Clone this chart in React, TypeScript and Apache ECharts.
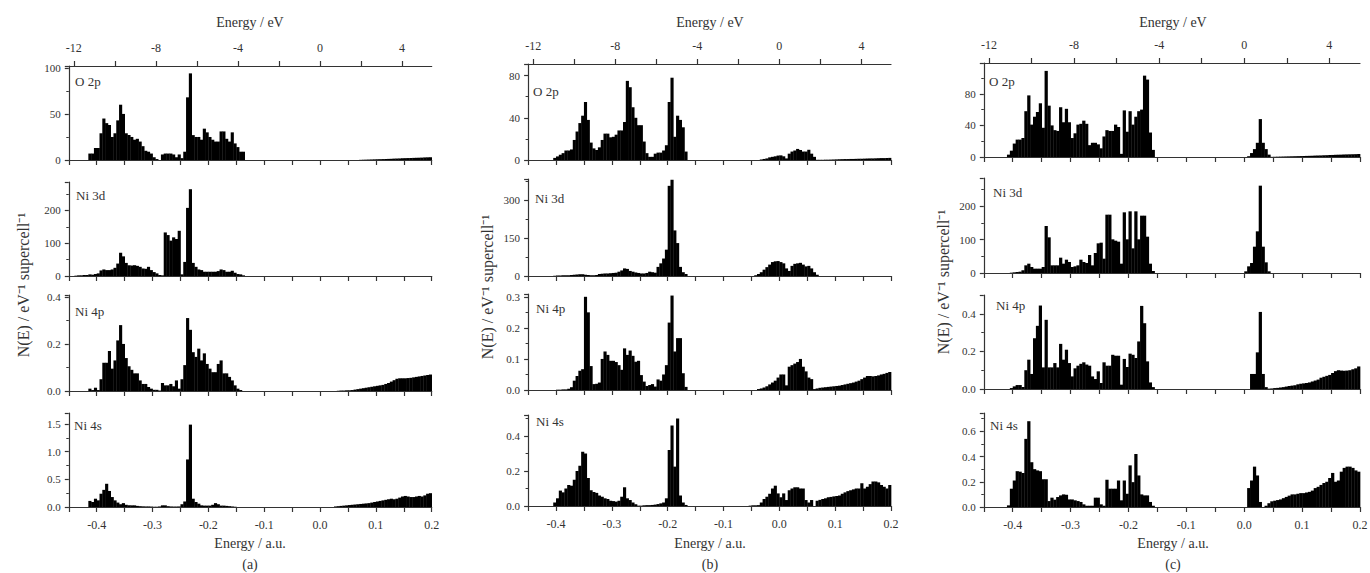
import React, { useEffect, useRef } from 'react';
import * as echarts from 'echarts';

// ---------- axis constants ----------
const BIN = 0.005; // a.u., histogram bin width
const AU_MIN = -0.45;
const AU_MAX = 0.2;
const HARTREE_EV = 27.2114;
const auTickStep = 0.05;
const auLabelStep = 0.1;
const eVTicks = [-12, -10, -8, -6, -4, -2, 0, 2, 4];
const eVLabels = [-12, -8, -4, 0, 4];
const orbitals = ['O 2p', 'Ni 3d', 'Ni 4p', 'Ni 4s'];
const panelTags = ['(a)', '(b)', '(c)'];

// ---------- data: [left edge energy (a.u.), bin values] ----------
type Seg = [number, number[]];

// panel (a)
const aO2p: Seg[] = [
  [-0.415, [7, 7, 13, 13, 29, 45, 40, 38, 25, 29, 43, 60, 50, 29, 27, 25, 22, 23, 20, 15, 10, 9, 7, 3, 1, 0, 6, 7, 7, 7, 6, 3, 6, 2, 9, 68, 94, 27, 25, 25, 22, 34, 30, 25, 22, 20, 20, 31, 31, 23, 20, 30, 18, 14, 9, 9]],
  [0.07, [0.2, 0.3, 0.4, 0.5, 0.6, 0.7, 0.8, 0.9, 1.0, 1.1, 1.2, 1.3, 1.5, 1.6, 1.7, 1.9, 2.0, 2.1, 2.2, 2.3, 2.4, 2.5, 2.6, 2.8, 2.9, 3.0]],
];
const aNi3d: Seg[] = [
  [-0.44, [1, 2, 2, 3, 3, 5, 4, 6, 8, 17, 20, 18, 18, 20, 25, 38, 71, 60, 40, 33, 32, 33, 31, 28, 23, 22, 28, 18, 12, 8, 3, 2, 133, 125, 108, 118, 113, 138, 5, 43, 208, 265, 40, 28, 20, 18, 13, 13, 13, 13, 13, 15, 20, 18, 13, 13, 16, 10, 6, 5, 2]],
];
const aNi4p: Seg[] = [
  [-0.415, [0.01, 0.004, 0.014, 0.004, 0.05, 0.12, 0.12, 0.17, 0.095, 0.13, 0.215, 0.28, 0.2, 0.14, 0.105, 0.09, 0.075, 0.075, 0.045, 0.03, 0.03, 0.017, 0.01, 0.005, 0.005, 0.002, 0.034, 0.024, 0.024, 0.03, 0.02, 0.045, 0.01, 0.05, 0.11, 0.31, 0.26, 0.165, 0.145, 0.18, 0.13, 0.16, 0.115, 0.095, 0.08, 0.08, 0.115, 0.13, 0.075, 0.075, 0.06, 0.045, 0.024, 0.01, 0.004]],
  [0.03, [0.001, 0.002, 0.002, 0.003, 0.003, 0.004, 0.006, 0.008, 0.01, 0.012, 0.014, 0.016, 0.018, 0.02, 0.022, 0.024, 0.026, 0.03, 0.034, 0.04, 0.046, 0.052, 0.054, 0.054, 0.054, 0.055, 0.056, 0.058, 0.06, 0.062, 0.064, 0.066, 0.068, 0.07]],
];
const aNi4s: Seg[] = [
  [-0.415, [0.11, 0.09, 0.15, 0.12, 0.24, 0.31, 0.42, 0.29, 0.18, 0.12, 0.08, 0.05, 0.07, 0.04, 0.03, 0.03, 0.03, 0.02, 0.015, 0.012, 0.01, 0.01, 0.008, 0.005, 0.005, 0.01, 0.03, 0.03, 0.015, 0.01, 0.008, 0.008, 0.01, 0.05, 0.1, 0.86, 1.49, 0.15, 0.09, 0.06, 0.03, 0.025, 0.025, 0.025, 0.04, 0.07, 0.05, 0.025, 0.025, 0.02, 0.015, 0.01, 0.005]],
  [0.025, [0.01, 0.015, 0.02, 0.025, 0.03, 0.035, 0.04, 0.045, 0.05, 0.055, 0.06, 0.065, 0.07, 0.08, 0.09, 0.1, 0.11, 0.12, 0.13, 0.14, 0.15, 0.14, 0.15, 0.17, 0.19, 0.2, 0.19, 0.18, 0.18, 0.19, 0.2, 0.19, 0.21, 0.24, 0.25]],
];

// panel (b)
const bO2p: Seg[] = [
  [-0.405, [2, 3.4, 5, 6.5, 9, 9, 10, 19, 27, 35, 42, 55, 38, 16.5, 11, 9.5, 12, 19, 25, 25, 21.5, 22, 24, 28, 28, 36, 75, 69, 50, 40, 33, 33, 17.5, 6.5, 3, 3, 6, 7, 7, 9, 14, 55, 78, 22, 42, 38, 31, 8]],
  [-0.035, [0.5, 1, 1.5, 2.5, 3, 3.5, 4.2, 4.4, 3.5, 1.5, 6, 8, 9, 10.5, 9.5, 8, 8, 9.7, 6, 3, 0.2, 0.2, 0.2, 0.3, 0.3, 0.4, 0.5, 0.6, 0.7, 0.8, 0.9, 0.9, 1.0, 1.0, 1.1, 1.2, 1.2, 1.3, 1.4, 1.5, 1.5, 1.6, 1.7, 1.8, 1.8, 1.9, 2.0]],
];
const bNi3d: Seg[] = [
  [-0.405, [1, 2, 2, 3, 3, 3, 4, 5, 6, 7, 7, 5, 4, 3, 3, 4, 8, 9, 10, 10, 11, 12, 13, 17, 22, 30, 28, 20, 17, 14, 12, 10, 10, 12, 17, 15, 13, 36, 50, 69, 104, 356, 380, 180, 130, 36, 15, 8]],
  [-0.045, [3, 8, 15, 25, 35, 45, 55, 58, 59, 55, 50, 30, 20, 40, 48, 50, 52, 45, 38, 40, 30, 15, 5]],
];
const bNi4p: Seg[] = [
  [-0.4, [0.001, 0.001, 0.002, 0.002, 0.004, 0.009, 0.03, 0.045, 0.062, 0.067, 0.3, 0.25, 0.077, 0.019, 0.02, 0.024, 0.1, 0.124, 0.113, 0.094, 0.094, 0.09, 0.08, 0.065, 0.134, 0.113, 0.127, 0.11, 0.091, 0.094, 0.048, 0.027, 0.013, 0.016, 0.019, 0.011, 0.034, 0.03, 0.05, 0.08, 0.217, 0.304, 0.124, 0.167, 0.167, 0.054, 0.01]],
  [-0.04, [0.003, 0.005, 0.008, 0.012, 0.018, 0.024, 0.03, 0.04, 0.05, 0.05, 0.015, 0.075, 0.08, 0.085, 0.09, 0.1, 0.075, 0.06, 0.04, 0.035, 0.003, 0.005, 0.007, 0.008, 0.009, 0.01, 0.011, 0.012, 0.013, 0.014, 0.016, 0.018, 0.02, 0.022, 0.024, 0.027, 0.03, 0.035, 0.04, 0.045, 0.045, 0.044, 0.045, 0.047, 0.05, 0.052, 0.055, 0.058]],
];
const bNi4s: Seg[] = [
  [-0.405, [0.02, 0.044, 0.088, 0.078, 0.1, 0.12, 0.116, 0.15, 0.2, 0.23, 0.31, 0.3, 0.16, 0.09, 0.08, 0.075, 0.06, 0.053, 0.044, 0.04, 0.03, 0.028, 0.025, 0.03, 0.053, 0.107, 0.044, 0.034, 0.02, 0.01, 0.002, 0.002, 0.004, 0.005, 0.005, 0.006, 0.008, 0.011, 0.015, 0.02, 0.044, 0.32, 0.46, 0.225, 0.5, 0.06, 0.02, 0.006]],
  [-0.055, [0.002, 0.004, 0.004, 0.005, 0.02, 0.04, 0.053, 0.07, 0.1, 0.116, 0.072, 0.05, 0.072, 0.034, 0.09, 0.1, 0.107, 0.107, 0.1, 0.1, 0.034, 0.02, 0.034, 0.0, 0.03, 0.035, 0.04, 0.044, 0.05, 0.052, 0.055, 0.057, 0.06, 0.07, 0.078, 0.085, 0.09, 0.095, 0.1, 0.1, 0.13, 0.1, 0.11, 0.125, 0.14, 0.14, 0.135, 0.12, 0.11, 0.1, 0.12]],
];

// panel (c)
const cO2p: Seg[] = [
  [-0.41, [3, 8, 17, 22, 22, 24, 58, 78, 41, 51, 57, 68, 37, 109, 65, 40, 34, 33, 63, 44, 61, 44, 24, 30, 41, 42, 46, 42, 15, 18, 18, 16, 11, 26, 34, 33, 33, 41, 38, 4, 59, 32, 58, 41, 51, 58, 60, 103, 98, 31, 9]],
  [0.005, [1, 5, 10, 18, 48, 18, 10, 3, 0.2, 0.3, 0.4, 0.5, 0.6, 0.7, 0.8, 0.9, 1.0, 1.1, 1.2, 1.3, 1.4, 1.5, 1.6, 1.8, 1.9, 2.0, 2.2, 2.3, 2.5, 2.6, 2.8, 2.9, 3.0, 3.2, 3.3, 3.4, 3.5, 3.6, 3.8]],
];
const cNi3d: Seg[] = [
  [-0.405, [1, 2, 3, 4, 8, 23, 28, 18, 13, 13, 13, 18, 141, 107, 23, 23, 23, 46, 28, 40, 33, 18, 20, 23, 40, 33, 30, 54, 23, 60, 89, 91, 43, 175, 175, 101, 97, 94, 28, 182, 101, 185, 74, 185, 101, 172, 172, 109, 28, 6]],
  [0.0, [5, 20, 30, 79, 125, 262, 79, 32, 5]],
];
const cNi4p: Seg[] = [
  [-0.405, [0.005, 0.014, 0.021, 0.021, 0.01, 0.1, 0.156, 0.08, 0.27, 0.336, 0.444, 0.115, 0.368, 0.115, 0.115, 0.138, 0.115, 0.24, 0.156, 0.209, 0.138, 0.067, 0.11, 0.124, 0.134, 0.142, 0.13, 0.124, 0.067, 0.053, 0.094, 0.032, 0.142, 0.124, 0.124, 0.182, 0.177, 0.177, 0.023, 0.16, 0.117, 0.188, 0.182, 0.165, 0.253, 0.442, 0.35, 0.147, 0.035, 0.01]],
  [0.01, [0.08, 0.08, 0.195, 0.41, 0.08, 0.01, 0.002, 0.003, 0.005, 0.006, 0.008, 0.01, 0.013, 0.016, 0.018, 0.02, 0.025, 0.028, 0.03, 0.032, 0.035, 0.04, 0.045, 0.05, 0.06, 0.065, 0.07, 0.075, 0.085, 0.095, 0.1, 0.098, 0.097, 0.098, 0.1, 0.105, 0.11, 0.12]],
];
const cNi4s: Seg[] = [
  [-0.41, [0.013, 0.145, 0.21, 0.284, 0.28, 0.27, 0.54, 0.68, 0.355, 0.3, 0.29, 0.284, 0.22, 0.22, 0.047, 0.074, 0.058, 0.079, 0.092, 0.1, 0.097, 0.06, 0.06, 0.053, 0.047, 0.04, 0.021, 0.01, 0.01, 0.01, 0.074, 0.074, 0.021, 0.01, 0.216, 0.145, 0.145, 0.145, 0.21, 0.053, 0.21, 0.105, 0.33, 0.197, 0.42, 0.25, 0.1, 0.092, 0.092, 0.04, 0.01]],
  [0.005, [0.15, 0.21, 0.32, 0.25, 0.04, 0.0, 0.01, 0.03, 0.045, 0.05, 0.055, 0.06, 0.07, 0.08, 0.09, 0.1, 0.1, 0.105, 0.11, 0.11, 0.115, 0.12, 0.13, 0.15, 0.16, 0.175, 0.19, 0.2, 0.23, 0.27, 0.2, 0.21, 0.28, 0.31, 0.32, 0.32, 0.31, 0.29, 0.28]],
];

// y-axis ranges and label steps per row
const yMaxA = [102, 287, 0.408, 1.7];
const yStepA = [50, 100, 0.2, 0.5];
const yMaxB = [91, 383, 0.309, 0.52];
const yStepB = [40, 150, 0.1, 0.2];
const yMaxC = [119, 285, 0.5, 0.745];
const yStepC = [40, 100, 0.2, 0.2];

// ---------- layout (pixels) ----------
const FONT = "'Liberation Serif', 'Times New Roman', serif";
const TEXT = '#333';
const AXIS = '#333';

const panels = [
  {
    left: 68.8, width: 362.9, tops: [66, 182, 295, 413], heights: [94, 94, 96, 94],
    series: [aO2p, aNi3d, aNi4p, aNi4s], yMax: yMaxA, yStep: yStepA,
    labelPos: [[75, 81], [76, 195], [75, 311], [74, 425]],
    center: 250, yTitle: [23, 285],
  },
  {
    left: 528.1, width: 362.9, tops: [64, 179, 294, 415], heights: [96, 97, 96, 91],
    series: [bO2p, bNi3d, bNi4p, bNi4s], yMax: yMaxB, yStep: yStepB,
    labelPos: [[533, 91], [535, 198], [536, 308], [536, 421]],
    center: 710, yTitle: [487, 287],
  },
  {
    left: 983.8, width: 376.2, tops: [63, 178, 295, 413], heights: [94, 95, 94, 94],
    series: [cO2p, cNi3d, cNi4p, cNi4s], yMax: yMaxC, yStep: yStepC,
    labelPos: [[989, 81], [993, 192], [996, 305], [990, 425]],
    center: 1173, yTitle: [943, 282],
  },
];

function toBins(segs: Seg[]): number[][] {
  const out: number[][] = [];
  segs.forEach(([start, vals]) => {
    vals.forEach((v, k) => {
      out.push([Math.round((start + BIN * (k + 0.5)) * 1e5) / 1e5, v]);
    });
  });
  return out;
}

function stepFormatter(step: number, dec: number) {
  return (v: number) => {
    const k = Math.round(v / step);
    if (Math.abs(v - k * step) > step * 1e-4) return '';
    const s = (k * step).toFixed(dec);
    return s === '-0.0' ? '0.0' : s;
  };
}

function buildOption() {
  const grid: any[] = [];
  const xAxis: any[] = [];
  const yAxis: any[] = [];
  const series: any[] = [];
  const graphic: any[] = [];
  const topAxes: any[] = [];

  panels.forEach((p, pi) => {
    for (let r = 0; r < 4; r++) {
      const gi = grid.length;
      grid.push({ left: p.left, width: p.width, top: p.tops[r], height: p.heights[r], containLabel: false, outerBoundsMode: 'none' });
      xAxis.push({
        gridIndex: gi, type: 'value', position: 'bottom', min: AU_MIN, max: AU_MAX, interval: auTickStep,
        axisLine: { show: true, onZero: false, lineStyle: { color: AXIS, width: 1.2 } },
        axisTick: { show: true, inside: false, length: 5, lineStyle: { color: AXIS, width: 1.2 } },
        axisLabel: {
          show: r === 3, margin: 12, fontFamily: FONT, fontSize: 12, color: TEXT,
          formatter: stepFormatter(auLabelStep, 1),
        },
        splitLine: { show: false },
      });
      const step = p.yStep[r];
      const dec = r < 2 ? 0 : 1;
      yAxis.push({
        gridIndex: gi, type: 'value', position: 'left', min: 0, max: p.yMax[r], interval: step,
        axisLine: { show: true, onZero: false, lineStyle: { color: AXIS, width: 1.2 } },
        axisTick: { show: true, inside: false, length: 4, lineStyle: { color: AXIS, width: 1.2 } },
        minorTick: { show: true, splitNumber: 2, length: 2.5, lineStyle: { color: AXIS, width: 1 } },
        axisLabel: { margin: 8, fontFamily: FONT, fontSize: 11, color: TEXT, formatter: stepFormatter(step, dec) },
        splitLine: { show: false },
        minorSplitLine: { show: false },
      });
      series.push({
        type: 'custom', xAxisIndex: gi, yAxisIndex: gi, silent: true, clip: true,
        encode: { x: 0, y: 1 },
        data: toBins(p.series[r]),
        renderItem: (params: any, api: any) => {
          const x = api.value(0);
          const y = api.value(1);
          const a = api.coord([x - BIN / 2, y]);
          const b = api.coord([x + BIN / 2, 0]);
          return {
            type: 'rect',
            shape: { x: a[0], y: a[1], width: b[0] - a[0] + 0.35, height: b[1] - a[1] },
            style: { fill: '#000' },
          };
        },
      });
      graphic.push({
        type: 'text', x: p.labelPos[r][0], y: p.labelPos[r][1],
        style: { text: orbitals[r], fontFamily: FONT, fontSize: 13, fill: TEXT, align: 'left', verticalAlign: 'middle' },
      });
      if (r === 0) {
        topAxes.push({
          gridIndex: gi, type: 'value', position: 'top',
          min: AU_MIN * HARTREE_EV, max: AU_MAX * HARTREE_EV,
          axisLine: { show: true, onZero: false, lineStyle: { color: AXIS, width: 1.2 } },
          axisTick: { show: true, inside: false, length: 5, customValues: eVTicks, lineStyle: { color: AXIS, width: 1.2 } },
          axisLabel: { show: true, margin: 12, customValues: eVLabels, fontFamily: FONT, fontSize: 12, color: TEXT },
          splitLine: { show: false },
        });
      }
    }
    graphic.push({
      type: 'text', x: p.center, y: 22,
      style: { text: 'Energy / eV', fontFamily: FONT, fontSize: 14, fill: TEXT, align: 'center', verticalAlign: 'middle' },
    });
    graphic.push({
      type: 'text', x: p.center, y: 543,
      style: { text: 'Energy / a.u.', fontFamily: FONT, fontSize: 14, fill: TEXT, align: 'center', verticalAlign: 'middle' },
    });
    graphic.push({
      type: 'text', x: p.center, y: 564,
      style: { text: panelTags[pi], fontFamily: FONT, fontSize: 14, fill: TEXT, align: 'center', verticalAlign: 'middle' },
    });
    graphic.push({
      type: 'text', x: p.yTitle[0], y: p.yTitle[1], rotation: Math.PI / 2,
      style: { text: 'N(E) / eV⁻¹ supercell⁻¹', fontFamily: FONT, fontSize: 16, fill: TEXT, align: 'center', verticalAlign: 'middle' },
    });
  });

  return {
    animation: false,
    backgroundColor: '#fff',
    grid,
    xAxis: [...xAxis, ...topAxes],
    yAxis,
    series,
    graphic: { elements: graphic },
  };
}

export default function App() {
  const ref = useRef<HTMLDivElement>(null);
  useEffect(() => {
    if (!ref.current) return;
    const chart = echarts.init(ref.current, undefined, { renderer: 'svg' });
    chart.setOption(buildOption() as any);
    return () => chart.dispose();
  }, []);
  return (
    <div
      ref={ref}
      style={{ position: 'absolute', left: 0, top: 0, width: 1370, height: 573, background: '#fff' }}
    />
  );
}
